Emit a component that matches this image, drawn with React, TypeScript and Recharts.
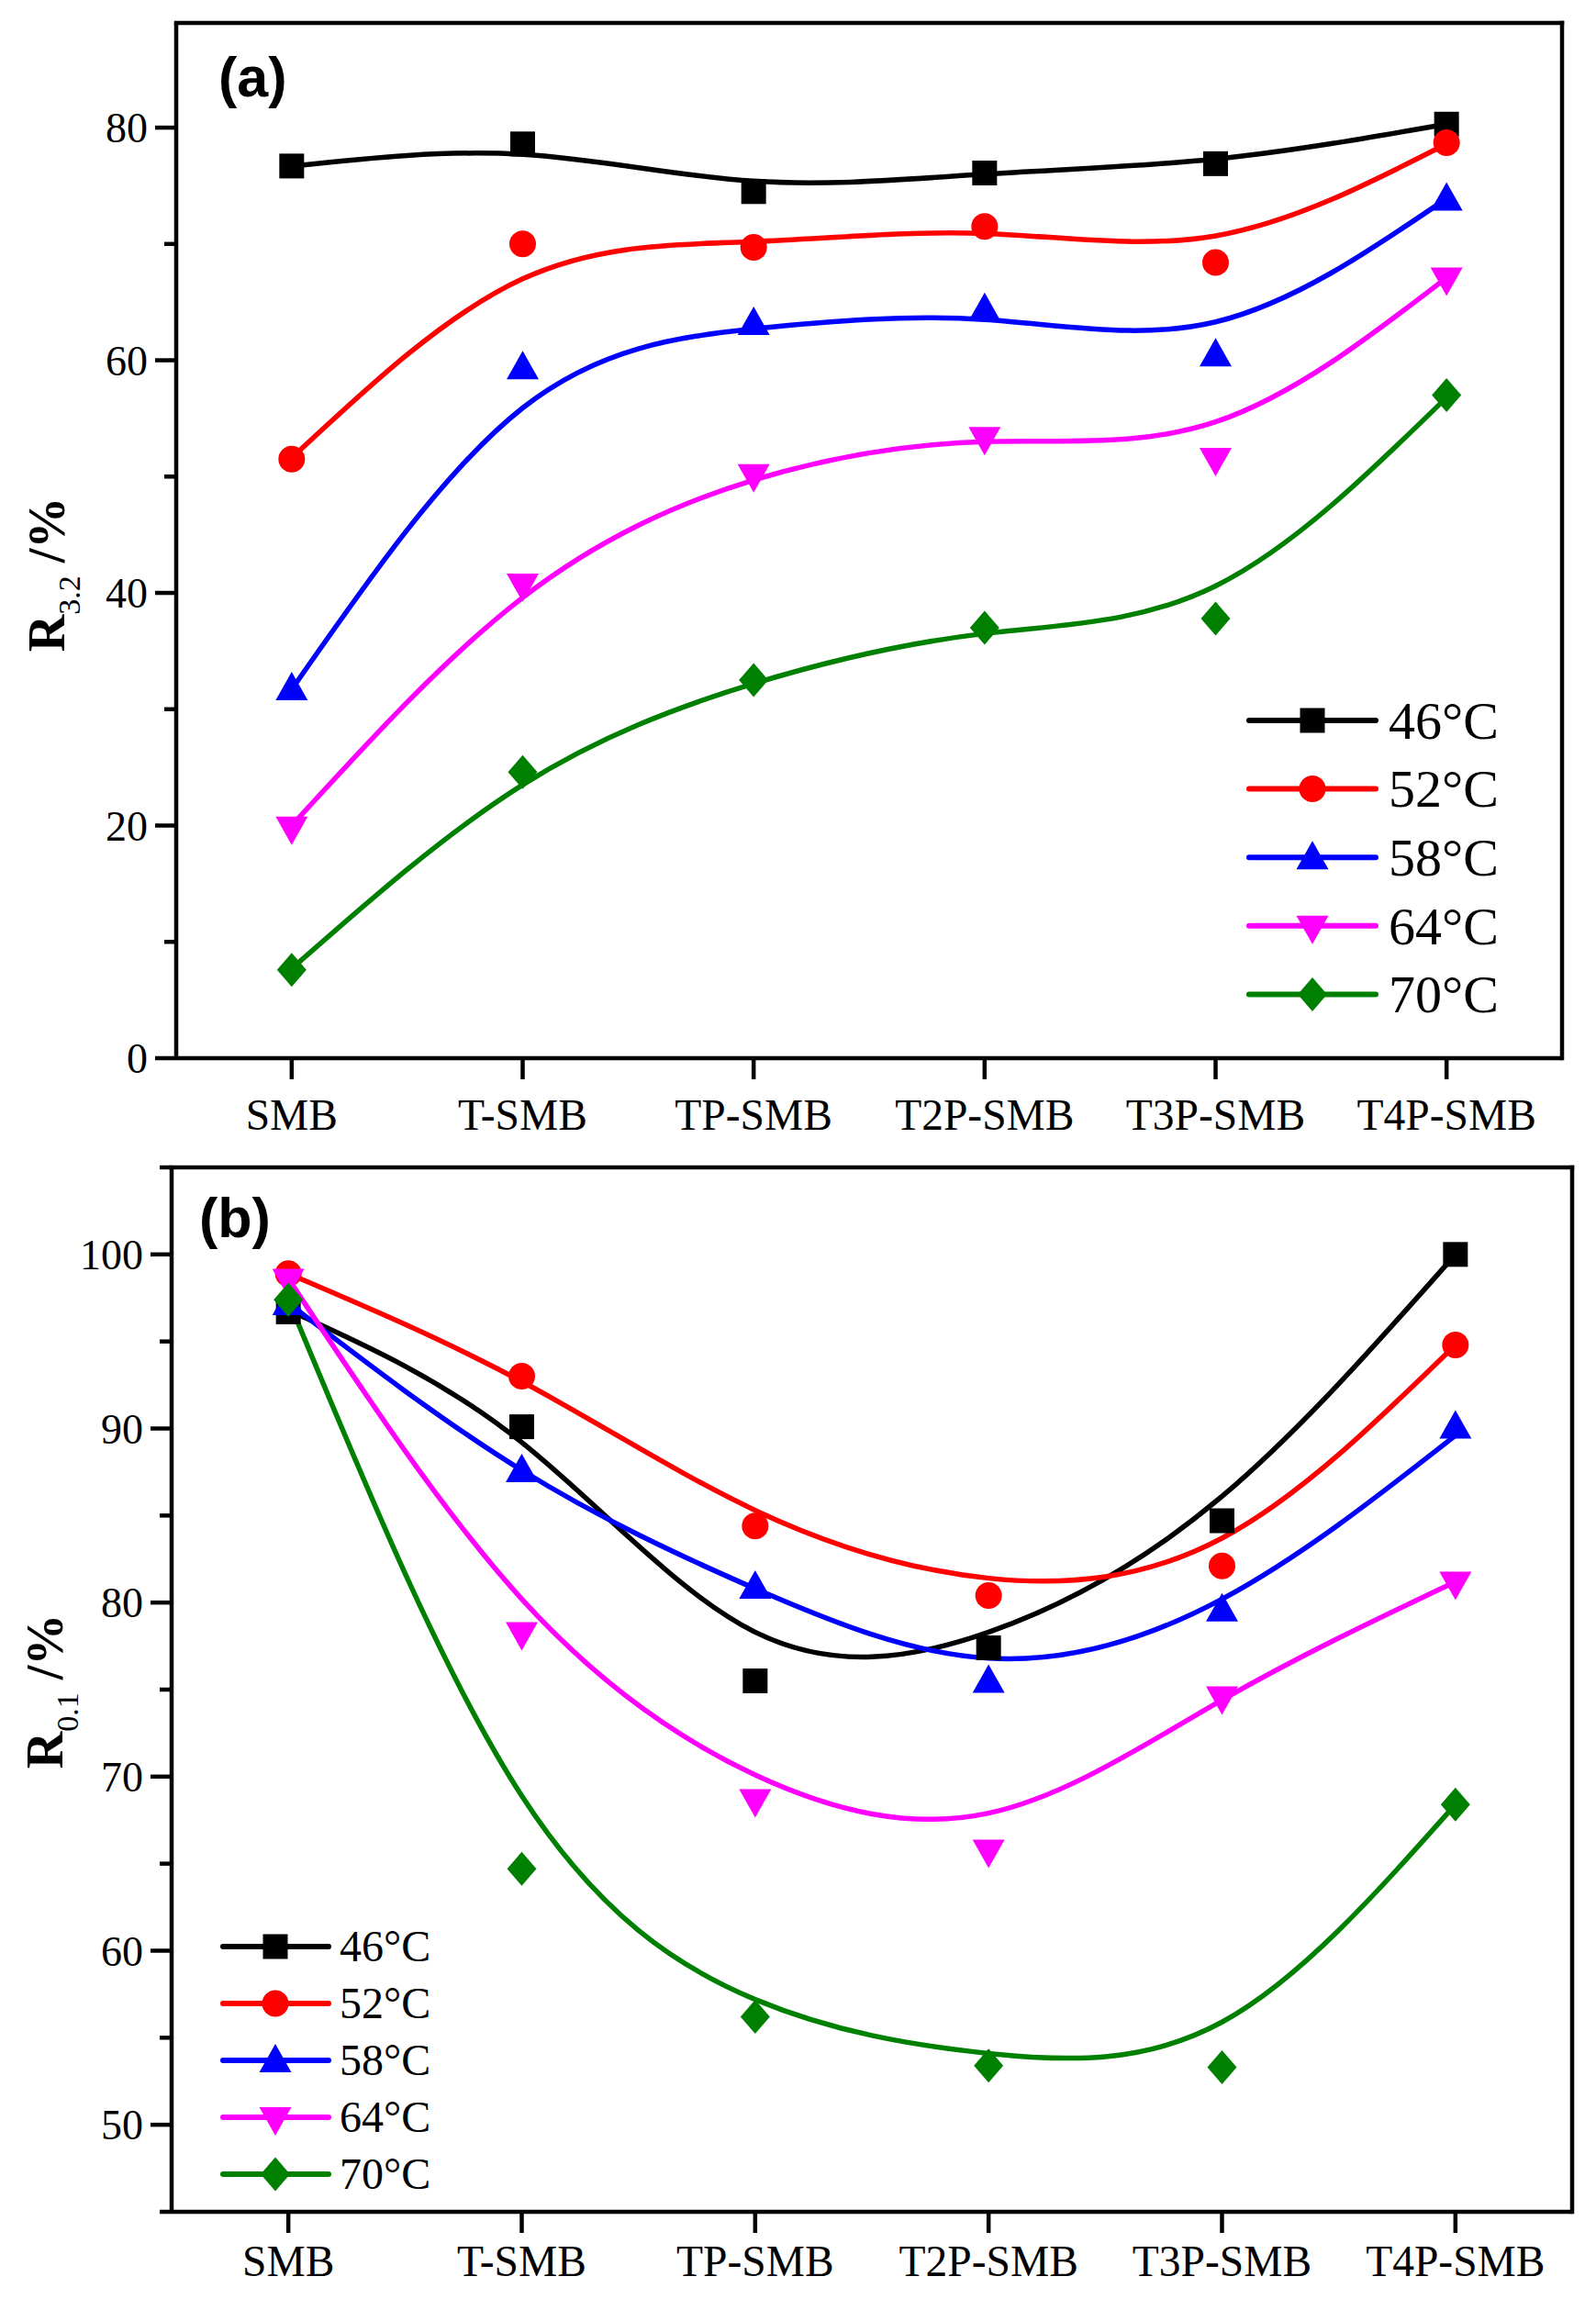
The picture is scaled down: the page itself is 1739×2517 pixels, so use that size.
import { ComposedChart, Line, Scatter, XAxis, YAxis, ReferenceLine, Legend } from "recharts";

const categories = ["SMB", "T-SMB", "TP-SMB", "T2P-SMB", "T3P-SMB", "T4P-SMB"];
const temps = ["46°C", "52°C", "58°C", "64°C", "70°C"];
const colors = ["#000000", "#ff0000", "#0000ff", "#ff00ff", "#008000"];
const markerKinds = ["square", "circle", "up", "down", "diamond"];

// (a) R3.2 /% measured points
const r32_46 = [76.7, 78.6, 74.5, 76.1, 76.9, 80.3];
const r32_52 = [51.5, 70.0, 69.7, 71.5, 68.4, 78.7];
const r32_58 = [31.8, 59.4, 63.2, 64.4, 60.5, 73.9];
const r32_64 = [19.9, 40.8, 50.2, 53.4, 51.6, 67.1];
const r32_70 = [7.6, 24.6, 32.5, 37.0, 37.8, 57.0];

// (a) smoothed curves, read at each category
const r32Fit46 = [76.7, 77.7, 75.4, 76.0, 77.3, 80.3];
const r32Fit52 = [51.6, 67.0, 70.2, 70.9, 70.7, 78.6];
const r32Fit58 = [31.7, 55.9, 62.7, 63.5, 63.3, 73.9];
const r32Fit64 = [20.0, 39.6, 49.7, 53.0, 54.7, 67.1];
const r32Fit70 = [7.7, 23.5, 32.2, 36.5, 40.6, 56.8];

// (b) R0.1 /% measured points
const r01_46 = [96.7, 90.1, 75.5, 77.4, 84.7, 100.0];
const r01_52 = [98.9, 93.0, 84.4, 80.4, 82.1, 94.8];
const r01_58 = [97.2, 87.6, 80.9, 75.5, 79.6, 90.1];
const r01_64 = [98.6, 78.3, 68.7, 65.8, 74.6, 81.2];
const r01_70 = [97.4, 64.7, 56.2, 53.4, 53.3, 68.4];

// (b) fitted curves, read at each category
const r01Fit46 = [96.8, 89.2, 78.3, 78.3, 86.1, 100.0];
const r01Fit52 = [98.9, 92.7, 85.3, 81.4, 83.7, 94.8];
const r01Fit58 = [97.2, 87.6, 80.8, 76.8, 80.2, 89.6];
const r01Fit64 = [98.6, 80.2, 70.1, 67.9, 74.4, 81.2];
const r01Fit70 = [97.4, 68.9, 57.2, 54.1, 55.9, 68.4];

const ticksA = [0, 10, 20, 30, 40, 50, 60, 70, 80];
const ticksB = [45, 50, 55, 60, 65, 70, 75, 80, 85, 90, 95, 100, 105];

const SERIF = "'Liberation Serif', 'Times New Roman', serif";
const SANS = "'Liberation Sans', Arial, sans-serif";
const AXIS_W = 4.5;

function buildRows(measured: number[][], fitted: number[][]) {
  return categories.map((name, i) => {
    const row: Record<string, any> = { x: i, name };
    temps.forEach((_, k) => {
      row[`m${k}`] = measured[k][i];
      row[`f${k}`] = fitted[k][i];
    });
    return row;
  });
}

const rowsA = buildRows(
  [r32_46, r32_52, r32_58, r32_64, r32_70],
  [r32Fit46, r32Fit52, r32Fit58, r32Fit64, r32Fit70]
);
const rowsB = buildRows(
  [r01_46, r01_52, r01_58, r01_64, r01_70],
  [r01Fit46, r01Fit52, r01Fit58, r01Fit64, r01Fit70]
);

function Marker({ cx, cy, kind, color }: { cx: number; cy: number; kind: string; color: string }) {
  if (cx == null || cy == null) return null;
  switch (kind) {
    case "square":
      return <rect x={cx - 13.5} y={cy - 13.5} width={27} height={27} fill={color} />;
    case "circle":
      return <circle cx={cx} cy={cy} r={14.5} fill={color} />;
    case "up":
      return <polygon points={`${cx},${cy - 18} ${cx - 17.5},${cy + 13} ${cx + 17.5},${cy + 13}`} fill={color} />;
    case "down":
      return <polygon points={`${cx - 17.5},${cy - 11} ${cx + 17.5},${cy - 11} ${cx},${cy + 20}`} fill={color} />;
    default:
      return <polygon points={`${cx},${cy - 18.5} ${cx + 16},${cy} ${cx},${cy + 18.5} ${cx - 16},${cy}`} fill={color} />;
  }
}

type PanelProps = {
  top: number;
  height: number;
  margin: { top: number; right: number; left: number; bottom: number };
  yWidth: number;
  domain: [number, number];
  ticks: number[];
  majorStep: number;
  rows: Record<string, any>[];
  xTickMargin: number;
  letter: string;
  letterPos: [number, number];
  sub: string;
  titlePos: [number, number];
  legend: { x1: number; x2: number; mx: number; tx: number; y0: number; dy: number; fontSize: number };
};

function Panel(p: PanelProps) {
  const axisX = p.margin.left + p.yWidth;

  const yTick = (t: any) => {
    const v = t.payload.value;
    const major = Math.round(v) % p.majorStep === 0;
    const len = major ? 23 : 13;
    return (
      <g>
        <line x1={axisX - len} x2={axisX} y1={t.y} y2={t.y} stroke="#000" strokeWidth={AXIS_W} />
        {major && (
          <text x={axisX - 31} y={t.y} dy="0.35em" textAnchor="end" fontFamily={SERIF} fontSize={46} fill="#000">
            {v}
          </text>
        )}
      </g>
    );
  };

  const yTitle = () => (
    <text
      x={p.titlePos[0]}
      y={p.titlePos[1]}
      transform={`rotate(-90 ${p.titlePos[0]} ${p.titlePos[1]})`}
      textAnchor="middle"
      fontFamily={SERIF}
      fontWeight="bold"
      fontSize={56}
      fill="#000"
    >
      R
      <tspan fontSize={34} fontWeight="normal" dy={17}>
        {p.sub}
      </tspan>
      <tspan dy={-17}> /%</tspan>
    </text>
  );

  const letterLabel = () => (
    <text x={p.letterPos[0]} y={p.letterPos[1]} fontFamily={SANS} fontWeight="bold" fontSize={61} fill="#000">
      {p.letter}
    </text>
  );

  const lg = p.legend;
  const legendBox = () => (
    <svg width={1739} height={p.height} style={{ position: "absolute", left: 0, top: 0 }}>
      {temps.map((t, k) => {
        const y = lg.y0 + k * lg.dy;
        return (
          <g key={t}>
            <line x1={lg.x1} x2={lg.x2} y1={y} y2={y} stroke={colors[k]} strokeWidth={6} strokeLinecap="round" />
            <Marker cx={lg.mx} cy={y} kind={markerKinds[k]} color={colors[k]} />
            <text x={lg.tx} y={y} dy="0.34em" fontFamily={SERIF} fontSize={lg.fontSize} fill="#000">
              {t}
            </text>
          </g>
        );
      })}
    </svg>
  );

  return (
    <div style={{ position: "absolute", left: 0, top: p.top, width: 1739, height: p.height }}>
      <ComposedChart width={1739} height={p.height} data={p.rows} margin={p.margin}>
        <XAxis
          dataKey="x"
          type="number"
          domain={[-0.5, 5.5]}
          ticks={[0, 1, 2, 3, 4, 5]}
          interval={0}
          tickFormatter={(v: number) => categories[v]}
          height={107}
          tickSize={23}
          tickMargin={p.xTickMargin}
          axisLine={{ stroke: "#000", strokeWidth: AXIS_W }}
          tickLine={{ stroke: "#000", strokeWidth: AXIS_W }}
          tick={{ fontFamily: SERIF, fontSize: 47.5, fill: "#000" }}
          label={letterLabel}
        />
        <YAxis
          type="number"
          domain={p.domain}
          ticks={p.ticks}
          interval={0}
          width={p.yWidth}
          allowDataOverflow
          axisLine={{ stroke: "#000", strokeWidth: AXIS_W }}
          tickLine={false}
          tick={yTick}
          label={yTitle}
        />
        <ReferenceLine y={p.domain[1]} stroke="#000" strokeWidth={AXIS_W} strokeLinecap="square" />
        <ReferenceLine x={5.5} stroke="#000" strokeWidth={AXIS_W} strokeLinecap="square" />
        {temps.flatMap((t, k) => [
          <Line
            key={`f${k}`}
            dataKey={`f${k}`}
            type="natural"
            stroke={colors[k]}
            strokeWidth={5.5}
            dot={false}
            activeDot={false}
            legendType="none"
            isAnimationActive={false}
          />,
          <Scatter
            key={`m${k}`}
            dataKey={`m${k}`}
            fill={colors[k]}
            legendType="none"
            isAnimationActive={false}
            shape={(s: any) => <Marker cx={s.cx} cy={s.cy} kind={markerKinds[k]} color={colors[k]} />}
          />,
        ])}
        <Legend
          layout="horizontal"
          verticalAlign="middle"
          align="center"
          content={legendBox}
          wrapperStyle={{ left: 0, top: 0, width: 1739, height: p.height, pointerEvents: "none" }}
        />
      </ComposedChart>
    </div>
  );
}

export default function App() {
  return (
    <div style={{ position: "relative", width: 1739, height: 2517, background: "#fff" }}>
      <style>{"body{margin:0;background:#fff}"}</style>
      <Panel
        top={0}
        height={1260}
        margin={{ top: 25, right: 37, left: 0, bottom: 0 }}
        yWidth={192}
        domain={[0, 89]}
        ticks={ticksA}
        majorStep={20}
        rows={rowsA}
        xTickMargin={21}
        letter="(a)"
        letterPos={[238, 105]}
        sub="3.2"
        titlePos={[70, 626]}
        legend={{ x1: 1361, x2: 1499, mx: 1430, tx: 1513, y0: 785, dy: 74.6, fontSize: 58 }}
      />
      <Panel
        top={1260}
        height={1257}
        margin={{ top: 12, right: 26, left: 0, bottom: 0 }}
        yWidth={187}
        domain={[45, 105]}
        ticks={ticksB}
        majorStep={10}
        rows={rowsB}
        xTickMargin={13}
        letter="(b)"
        letterPos={[217, 88]}
        sub="0.1"
        titlePos={[68, 583]}
        legend={{ x1: 243, x2: 358, mx: 300, tx: 370, y0: 861, dy: 62, fontSize: 48 }}
      />
    </div>
  );
}
